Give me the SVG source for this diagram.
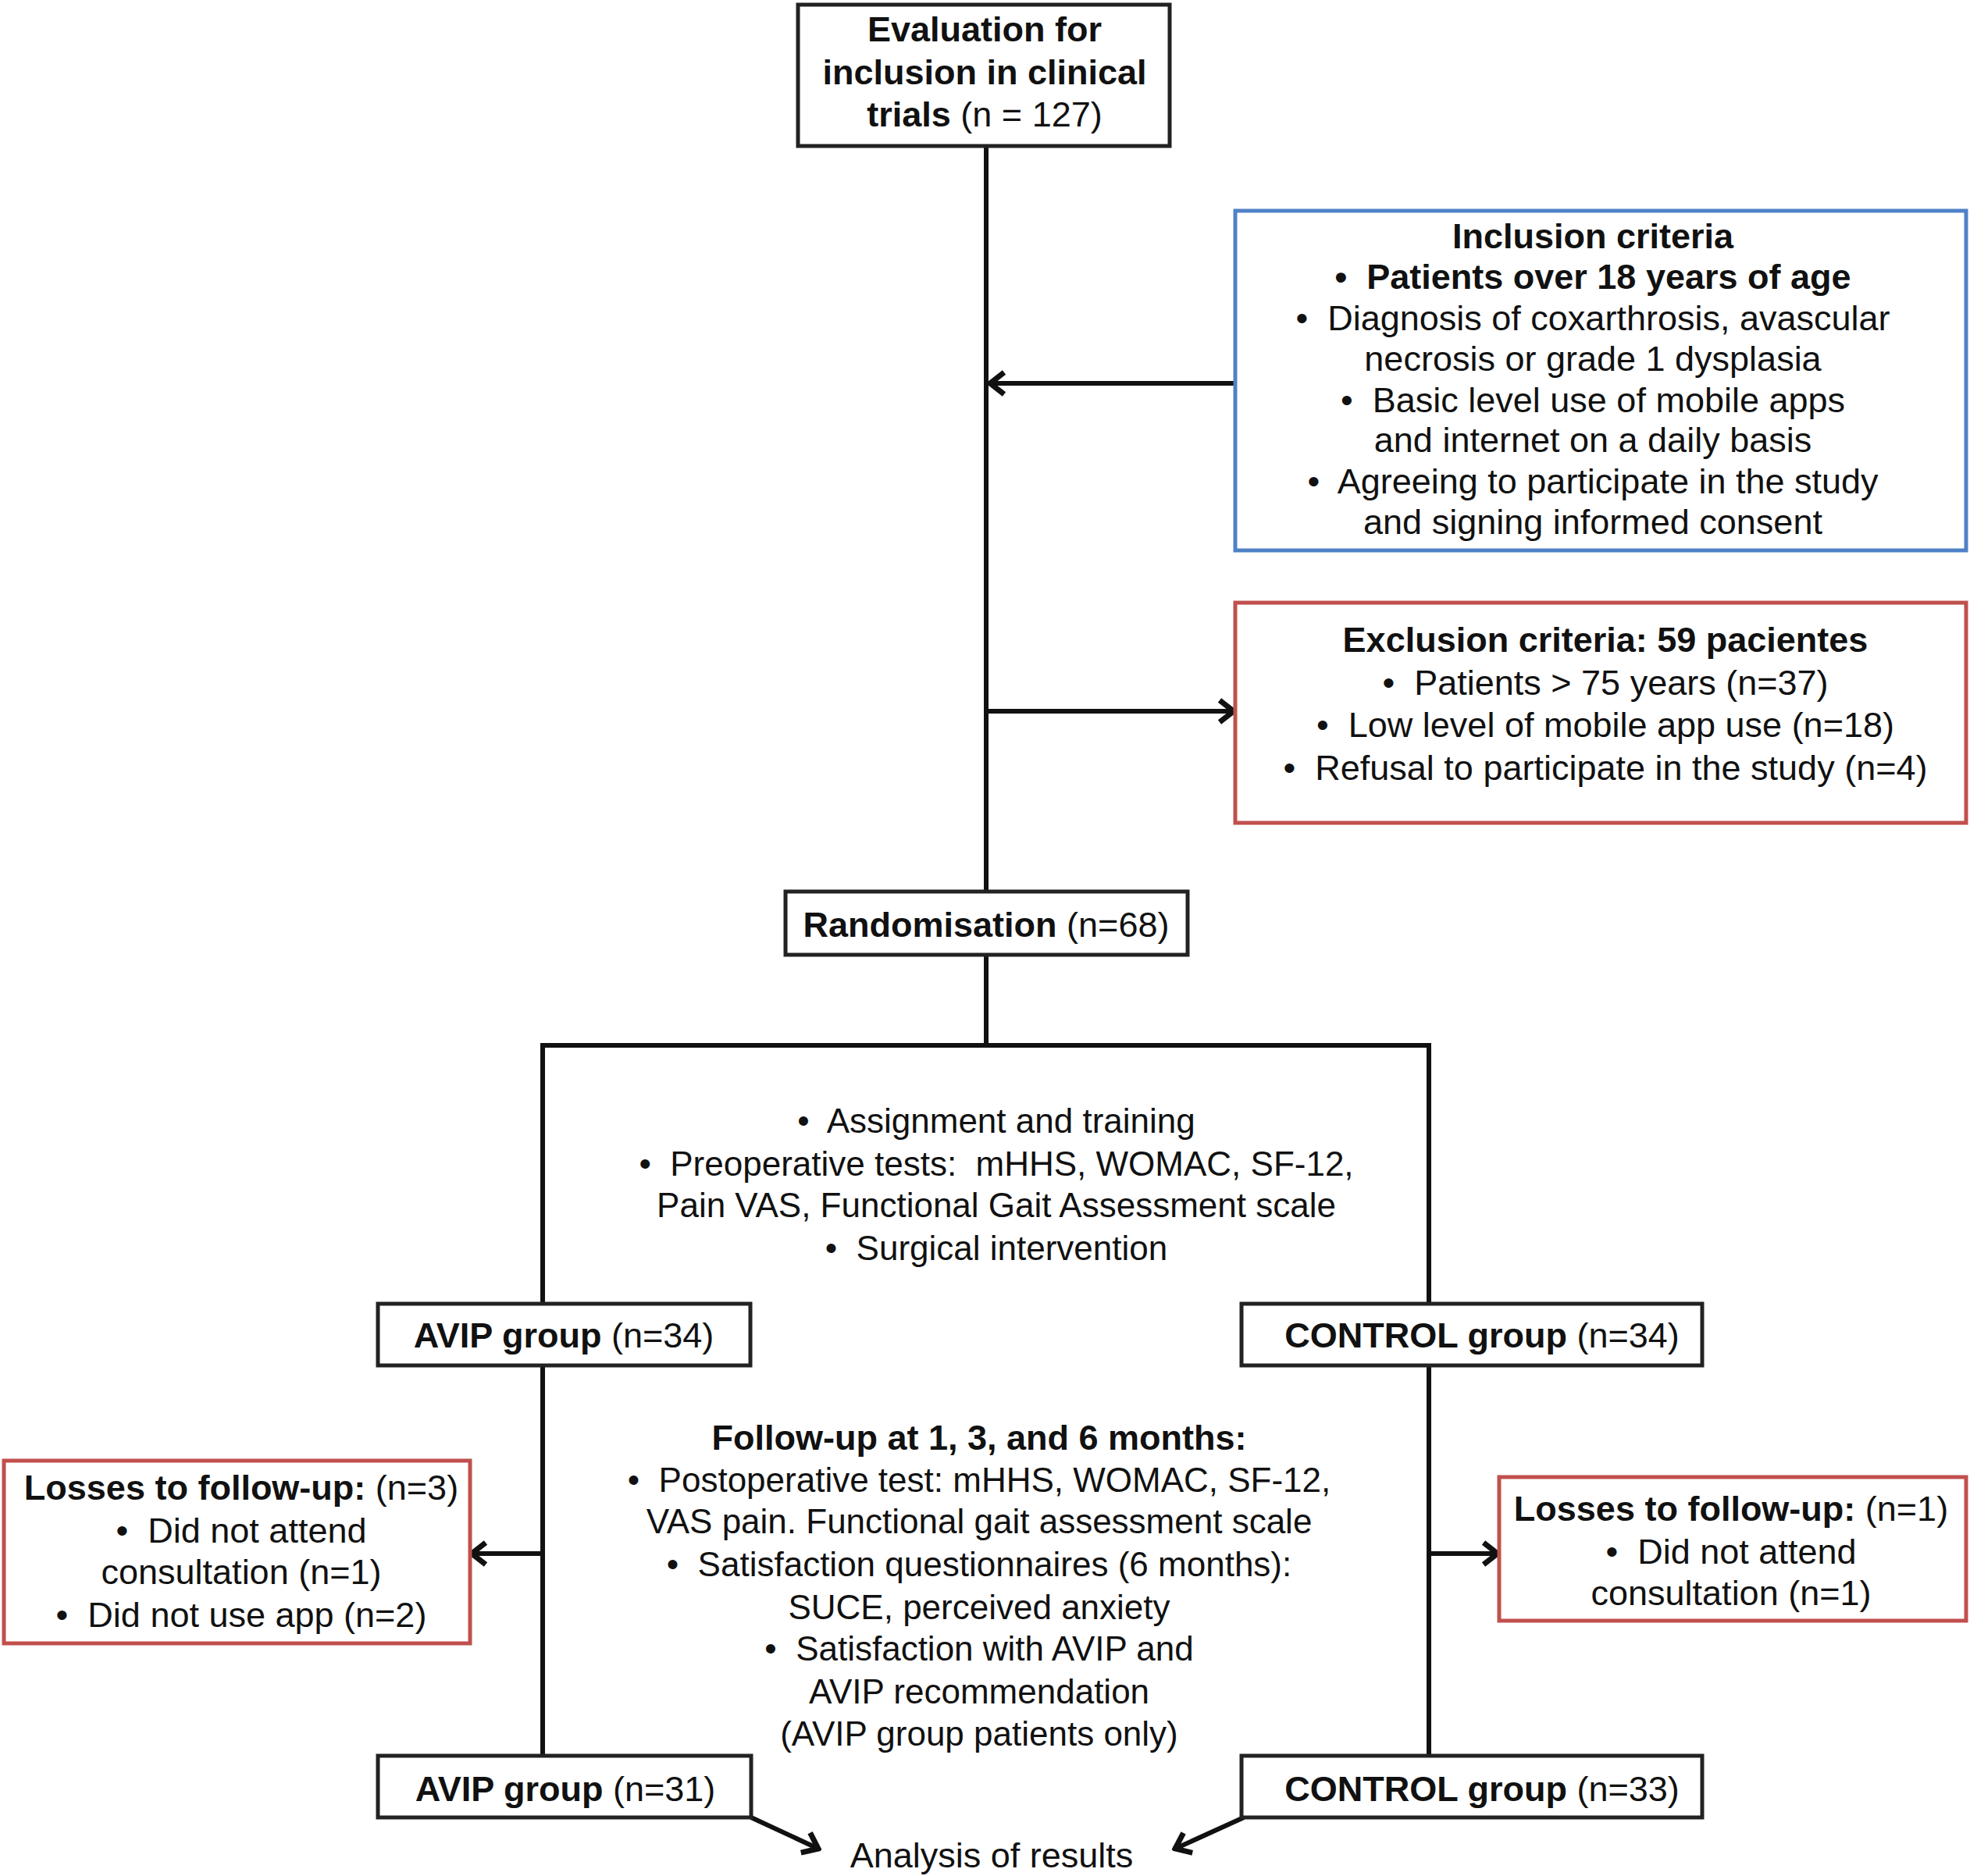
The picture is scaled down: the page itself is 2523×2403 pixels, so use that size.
<svg xmlns="http://www.w3.org/2000/svg" width="2523" height="2403" viewBox="0 0 2523 2403">
<style>
text{font-family:"Liberation Sans",Arial,sans-serif;font-size:45px;fill:#111;text-anchor:middle;white-space:pre}
.s{font-size:44px}
.b{font-weight:bold}
.box{fill:#fff;stroke:#222;stroke-width:5}
.blue{fill:#fff;stroke:#4f81c7;stroke-width:5}
.red{fill:#fff;stroke:#c0504d;stroke-width:5}
.ln{fill:none;stroke:#111;stroke-width:6}
</style>
<defs>
<marker id="ah" markerUnits="userSpaceOnUse" markerWidth="44" markerHeight="44" viewBox="0 0 44 44" refX="40" refY="22" orient="auto">
<path d="M22,8 L40,22 L22,36" fill="none" stroke="#111" stroke-width="7" stroke-linejoin="miter"/>
</marker>
</defs>
<rect width="2523" height="2403" fill="#fff"/>
<g id="connectors">
<line class="ln" x1="1263" y1="187" x2="1263" y2="1142"/>
<line class="ln" x1="1582" y1="491" x2="1268" y2="491" marker-end="url(#ah)"/>
<line class="ln" x1="1263" y1="911" x2="1580" y2="911" marker-end="url(#ah)"/>
<polyline class="ln" points="1263,1223 1263,1339"/>
<polyline class="ln" points="695,1670 695,1339 1830,1339 1830,1670"/>
<line class="ln" x1="695" y1="1749" x2="695" y2="2249"/>
<line class="ln" x1="1830" y1="1749" x2="1830" y2="2249"/>
<line class="ln" x1="695" y1="1990" x2="604" y2="1990" marker-end="url(#ah)"/>
<line class="ln" x1="1830" y1="1990" x2="1918" y2="1990" marker-end="url(#ah)"/>
<line class="ln" x1="962" y1="2328" x2="1048" y2="2368" marker-end="url(#ah)"/>
<line class="ln" x1="1593" y1="2328" x2="1505" y2="2368" marker-end="url(#ah)"/>
</g>
<g id="evaluation">
<rect class="box" x="1022" y="6" width="476" height="181"/>
<text x="1261" y="53" class="b">Evaluation for</text>
<text x="1261" y="108" class="b">inclusion in clinical</text>
<text x="1261" y="162"><tspan class="b">trials</tspan> (n = 127)</text>
</g>
<g id="inclusion">
<rect class="blue" x="1582" y="270" width="936" height="435"/>
<text x="2040" y="318" class="b">Inclusion criteria</text>
<text x="2040" y="370" class="b">•  Patients over 18 years of age</text>
<text x="2040" y="423">•  Diagnosis of coxarthrosis, avascular</text>
<text x="2040" y="475">necrosis or grade 1 dysplasia</text>
<text x="2040" y="528">•  Basic level use of mobile apps</text>
<text x="2040" y="579">and internet on a daily basis</text>
<text x="2040" y="632">•  Agreeing to participate in the study</text>
<text x="2040" y="684">and signing informed consent</text>
</g>
<g id="exclusion">
<rect class="red" x="1582" y="772" width="936" height="282"/>
<text x="2056" y="835" class="b">Exclusion criteria: 59 pacientes</text>
<text x="2056" y="890">•  Patients &gt; 75 years (n=37)</text>
<text x="2056" y="944">•  Low level of mobile app use (n=18)</text>
<text x="2056" y="999">•  Refusal to participate in the study (n=4)</text>
</g>
<g id="randomisation">
<rect class="box" x="1006" y="1142" width="515" height="81"/>
<text x="1263" y="1200"><tspan class="b">Randomisation</tspan> (n=68)</text>
</g>
<g id="assignment">
<text x="1276" y="1451" class="s">•  Assignment and training</text>
<text x="1276" y="1506" class="s">•  Preoperative tests:  mHHS, WOMAC, SF-12,</text>
<text x="1276" y="1559" class="s">Pain VAS, Functional Gait Assessment scale</text>
<text x="1276" y="1614" class="s">•  Surgical intervention</text>
</g>
<g id="avip1">
<rect class="box" x="484" y="1670" width="477" height="79"/>
<text x="722" y="1726"><tspan class="b">AVIP group</tspan> (n=34)</text>
</g>
<g id="control1">
<rect class="box" x="1590" y="1670" width="590" height="79"/>
<text x="1898" y="1726"><tspan class="b">CONTROL group</tspan> (n=34)</text>
</g>
<g id="followup">
<text x="1254" y="1857" class="b">Follow-up at 1, 3, and 6 months:</text>
<text x="1254" y="1911" class="s">•  Postoperative test: mHHS, WOMAC, SF-12,</text>
<text x="1254" y="1964" class="s">VAS pain. Functional gait assessment scale</text>
<text x="1254" y="2019" class="s">•  Satisfaction questionnaires (6 months):</text>
<text x="1254" y="2074" class="s">SUCE, perceived anxiety</text>
<text x="1254" y="2127" class="s">•  Satisfaction with AVIP and</text>
<text x="1254" y="2182" class="s">AVIP recommendation</text>
<text x="1254" y="2236" class="s">(AVIP group patients only)</text>
</g>
<g id="loss-avip">
<rect class="red" x="5" y="1871" width="597" height="234"/>
<text x="309" y="1921"><tspan class="b">Losses to follow-up:</tspan> (n=3)</text>
<text x="309" y="1976">•  Did not attend</text>
<text x="309" y="2029">consultation (n=1)</text>
<text x="309" y="2084">•  Did not use app (n=2)</text>
</g>
<g id="loss-control">
<rect class="red" x="1920" y="1892" width="598" height="184"/>
<text x="2217" y="1948"><tspan class="b">Losses to follow-up:</tspan> (n=1)</text>
<text x="2217" y="2003">•  Did not attend</text>
<text x="2217" y="2056">consultation (n=1)</text>
</g>
<g id="avip2">
<rect class="box" x="484" y="2249" width="478" height="79"/>
<text x="724" y="2307"><tspan class="b">AVIP group</tspan> (n=31)</text>
</g>
<g id="control2">
<rect class="box" x="1590" y="2249" width="590" height="79"/>
<text x="1898" y="2307"><tspan class="b">CONTROL group</tspan> (n=33)</text>
</g>
<g id="analysis">
<text x="1270" y="2392">Analysis of results</text>
</g>
</svg>
